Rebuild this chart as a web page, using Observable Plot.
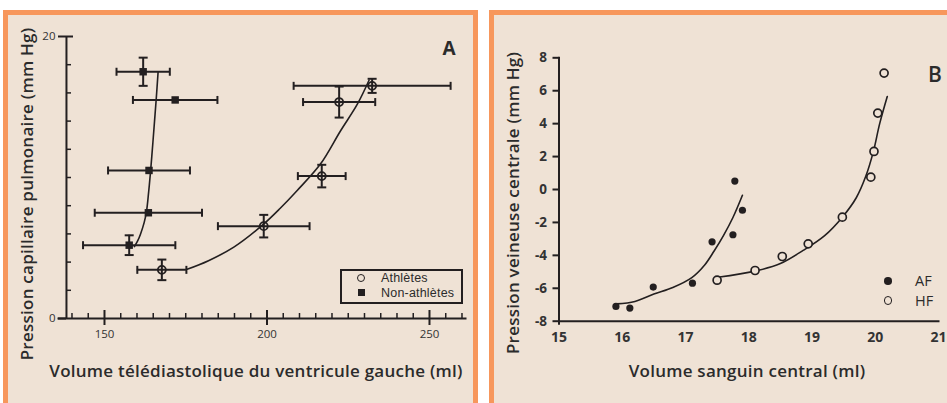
<!DOCTYPE html>
<html><head><meta charset="utf-8">
<script src="https://cdn.jsdelivr.net/npm/d3@7"></script>
<script src="https://cdn.jsdelivr.net/npm/@observablehq/plot@0.6"></script>
<style>
body{margin:0;width:947px;height:403px;background:#fff;position:relative;overflow:hidden;font-family:"Open Sans",sans-serif;}
.panel{position:absolute;background:#efe2d5;border:5px solid #f7975c;box-sizing:border-box;}
#pA{left:3px;top:10px;width:475px;height:420px;}
#pB{left:489px;top:10px;width:480px;height:420px;}
.plot{position:absolute;top:0;}
.t{position:absolute;color:#2b2b2b;white-space:nowrap;line-height:1;transform:translate(-50%,-50%);}
.title{font-size:17px;font-weight:600;letter-spacing:0.25px;}
.rot{transform:translate(-50%,-50%) rotate(-90deg);}
.lg{font-family:"Liberation Sans",Arial,sans-serif;font-size:12.5px;letter-spacing:0.2px;transform:translate(0,-50%);}
</style></head><body>
<div class="panel" id="pA"></div><div class="panel" id="pB"></div>
<div id="A" class="plot" style="left:0"></div>
<div id="B" class="plot" style="left:480px"></div>
<div class="t title rot" style="left:26px;top:194px">Pression capillaire pulmonaire (mm Hg)</div>
<div class="t title" style="left:256px;top:370px">Volume télédiastolique du ventricule gauche (ml)</div>
<div class="t title rot" style="left:512px;top:203px">Pression veineuse centrale (mm Hg)</div>
<div class="t title" style="left:747px;top:370px">Volume sanguin central (ml)</div>
<div class="t" style="left:449px;top:48px;font-size:19px;font-weight:700">A</div>
<div class="t" style="left:935px;top:74px;font-size:21px;font-weight:600">B</div>
<div style="position:absolute;left:340px;top:269px;width:123px;height:35px;border:2px solid #231f20;box-sizing:border-box;"></div>
<div style="position:absolute;left:357px;top:274px;width:8px;height:8px;border:1.8px solid #231f20;border-radius:50%;box-sizing:border-box;"></div>
<div style="position:absolute;left:357.5px;top:288.5px;width:7px;height:7px;background:#231f20;"></div>
<div class="t lg" style="left:381px;top:277.5px;">Athlètes</div>
<div class="t lg" style="left:381px;top:292.5px;">Non-athlètes</div>
<div style="position:absolute;left:884px;top:277px;width:7.5px;height:7.5px;background:#231f20;border-radius:50%;"></div>
<div style="position:absolute;left:883.5px;top:296px;width:8.5px;height:8.5px;border:1.8px solid #231f20;border-radius:50%;box-sizing:border-box;"></div>
<div class="t" style="left:915px;top:281px;transform:translate(0,-50%);font-size:14.5px;">AF</div>
<div class="t" style="left:915px;top:300.5px;transform:translate(0,-50%);font-size:14.5px;">HF</div>
<script>
// ---------- Panel A data ----------
const nonAthX = [161.9, 171.75, 163.7, 163.5, 157.6];
const nonAthY = [17.5, 15.5, 10.5, 7.5, 5.2];
const nonAthXErr = [8.2, 13, 12.6, 16.5, 14.2];
const nonAthYErr = [1, 0, 0, 0, 0.7];
const athX = [167.65, 199, 216.85, 222.2, 232.35];
const athY = [3.45, 6.55, 10.1, 15.35, 16.5];
const athXErr = [7.55, 14.1, 7.35, 11.1, 24.15];
const athYErr = [0.73, 0.8, 0.8, 1.1, 0.5];
const nonAthCurveX = [159.2, 160.2, 161.1, 162.2, 162.9, 163.6, 164.2, 164.9, 165.4, 165.9, 166.5];
const nonAthCurveY = [5.1, 5.5, 6.0, 6.8, 7.54, 9, 10.5, 12.5, 14, 15.5, 17.5];
const athCurveX = [175.2, 182, 189.8, 198.5, 204, 209.3, 216.5, 222.6, 227.8, 231.4];
const athCurveY = [3.47, 4.1, 5.06, 6.6, 7.8, 9.08, 10.97, 13.3, 15.2, 16.9];
const xMajorA = [150, 200, 250];
const xMinorA = [140, 145, 155, 160, 165, 170, 175, 180, 185, 190, 195, 205, 210, 215, 220, 225, 230, 235, 240, 245, 255, 260];
const yMajorA = [0, 20];
const yMinorA = [2, 4, 6, 8, 10, 12, 14, 16, 18];
const xDomainA = [135.85, 261.08];
const yAxisAtA = 138.3;

// ---------- Panel B data ----------
const afX = [15.9, 16.12, 16.49, 17.11, 17.42, 17.75, 17.78, 17.9];
const afY = [-7.1, -7.2, -5.93, -5.69, -3.18, -2.75, 0.51, -1.26];
const hfX = [17.5, 18.1, 18.53, 18.94, 19.48, 19.93, 19.98, 20.04, 20.14];
const hfY = [-5.51, -4.92, -4.07, -3.3, -1.68, 0.75, 2.31, 4.64, 7.07];
const afCurveX = [15.91, 16.2, 16.5, 16.8, 17.1, 17.3, 17.45, 17.6, 17.75, 17.9];
const afCurveY = [-6.95, -6.8, -6.35, -5.95, -5.35, -4.6, -3.75, -2.8, -1.7, -0.35];
const hfCurveX = [17.51, 18.1, 18.5, 18.86, 19.2, 19.48, 19.7, 19.85, 19.97, 20.07, 20.19];
const hfCurveY = [-5.33, -4.96, -4.5, -3.7, -2.8, -1.68, -0.5, 0.8, 2.3, 4.0, 5.65];
const xTicksB = [15, 16, 17, 18, 19, 20, 21];
const yTicksB = [-8, -6, -4, -2, 0, 2, 4, 6, 8];

const ink = "#231f20";
const bg = "#efe2d5";
const zip = (xs, ys) => xs.map((x, i) => ({x, y: ys[i]}));
const vbar = {draw(ctx, size) { const h = Math.sqrt(size / Math.PI); ctx.moveTo(0, -h); ctx.lineTo(0, h); }};
const hbar = {draw(ctx, size) { const h = Math.sqrt(size / Math.PI); ctx.moveTo(-h, 0); ctx.lineTo(h, 0); }};
const blank = () => "";

function errMarks(xs, ys, exs, eys) {
  const d = xs.map((x, i) => ({x, y: ys[i], ex: exs[i], ey: eys[i]}));
  const dv = d.filter(p => p.ey > 0);
  return [
    Plot.ruleY(d, {y: "y", x1: p => p.x - p.ex, x2: p => p.x + p.ex, stroke: ink, strokeWidth: 2}),
    Plot.dot(d.flatMap(p => [{x: p.x - p.ex, y: p.y}, {x: p.x + p.ex, y: p.y}]), {x: "x", y: "y", symbol: vbar, r: 4, stroke: ink, strokeWidth: 2, fill: "none"}),
    Plot.ruleX(dv, {x: "x", y1: p => p.y - p.ey, y2: p => p.y + p.ey, stroke: ink, strokeWidth: 2}),
    Plot.dot(dv.flatMap(p => [{x: p.x, y: p.y - p.ey}, {x: p.x, y: p.y + p.ey}]), {x: "x", y: "y", symbol: hbar, r: 4.5, stroke: ink, strokeWidth: 2, fill: "none"})
  ];
}

const plotA = Plot.plot({
  width: 480, height: 403,
  marginLeft: 58, marginRight: 15, marginTop: 36, marginBottom: 85,
  x: {domain: xDomainA}, y: {domain: [0, 20]},
  style: {background: "transparent", fontFamily: "Open Sans, sans-serif", color: "#333"},
  marks: [
    Plot.frame({anchor: "bottom", stroke: ink, strokeWidth: 2}),
    Plot.ruleX([yAxisAtA], {y1: 0, y2: 20, stroke: ink, strokeWidth: 2}),
    Plot.axisY(yMajorA, {anchor: "left", tickSize: 8, dx: 8, tickPadding: 3, fontSize: 11.5, label: null, stroke: ink, strokeWidth: 2, fill: "#333"}),
    Plot.axisY([20], {anchor: "left", tickSize: 7, dx: 15, tickFormat: blank, label: null, stroke: ink, strokeWidth: 2}),
    Plot.axisY(yMinorA, {anchor: "left", tickSize: 5, dx: 13, tickFormat: blank, label: null, stroke: ink, strokeWidth: 1.5}),
    Plot.axisX(xMajorA, {anchor: "bottom", tickSize: 7, tickPadding: 4, fontSize: 11.5, label: null, stroke: ink, strokeWidth: 2, fill: "#333"}),
    Plot.axisX(xMajorA, {anchor: "bottom", tickSize: 8, dy: -8, tickFormat: blank, label: null, stroke: ink, strokeWidth: 2}),
    Plot.axisX(xMinorA, {anchor: "bottom", tickSize: 5, dy: -5, tickFormat: blank, label: null, stroke: ink, strokeWidth: 1.5}),
    Plot.line(zip(nonAthCurveX, nonAthCurveY), {x: "x", y: "y", curve: "catmull-rom", stroke: ink, strokeWidth: 1.6}),
    Plot.line(zip(athCurveX, athCurveY), {x: "x", y: "y", curve: "catmull-rom", stroke: ink, strokeWidth: 1.6}),
    ...errMarks(nonAthX, nonAthY, nonAthXErr, nonAthYErr),
    ...errMarks(athX, athY, athXErr, athYErr),
    Plot.dot(zip(nonAthX, nonAthY), {x: "x", y: "y", symbol: "square", r: 4.2, fill: ink}),
    Plot.dot(zip(athX, athY), {x: "x", y: "y", symbol: "circle", r: 4, stroke: ink, strokeWidth: 1.8, fill: "none"})
  ]
});
document.getElementById("A").append(plotA);

const plotB = Plot.plot({
  width: 467, height: 403,
  marginLeft: 78.5, marginRight: 9, marginTop: 57.3, marginBottom: 82.3,
  x: {domain: [15, 21]}, y: {domain: [-8, 8]},
  style: {background: "transparent", fontFamily: "Open Sans, sans-serif", color: "#333"},
  marks: [
    Plot.frame({anchor: "bottom", stroke: ink, strokeWidth: 2}),
    Plot.frame({anchor: "left", stroke: ink, strokeWidth: 2}),
    Plot.axisY(yTicksB, {anchor: "left", tickSize: 6, tickPadding: 6, fontSize: 13.5, fontWeight: "bold", tickFormat: d => String(d), label: null, stroke: ink, strokeWidth: 2, fill: "#333"}),
    Plot.axisX(xTicksB, {anchor: "bottom", tickSize: 0, tickPadding: 11, fontSize: 14, fontWeight: "bold", tickFormat: d => String(d), label: null, fill: "#333"}),
    Plot.axisX([15], {anchor: "bottom", tickSize: 4, tickFormat: blank, label: null, stroke: ink, strokeWidth: 2}),
    Plot.line(zip(afCurveX, afCurveY), {x: "x", y: "y", curve: "catmull-rom", stroke: ink, strokeWidth: 1.6}),
    Plot.line(zip(hfCurveX, hfCurveY), {x: "x", y: "y", curve: "catmull-rom", stroke: ink, strokeWidth: 1.6}),
    Plot.dot(zip(afX, afY), {x: "x", y: "y", r: 3.6, fill: ink}),
    Plot.dot(zip(hfX, hfY), {x: "x", y: "y", r: 4, stroke: ink, strokeWidth: 1.7, fill: bg})
  ]
});
document.getElementById("B").append(plotB);
</script>
</body></html>
